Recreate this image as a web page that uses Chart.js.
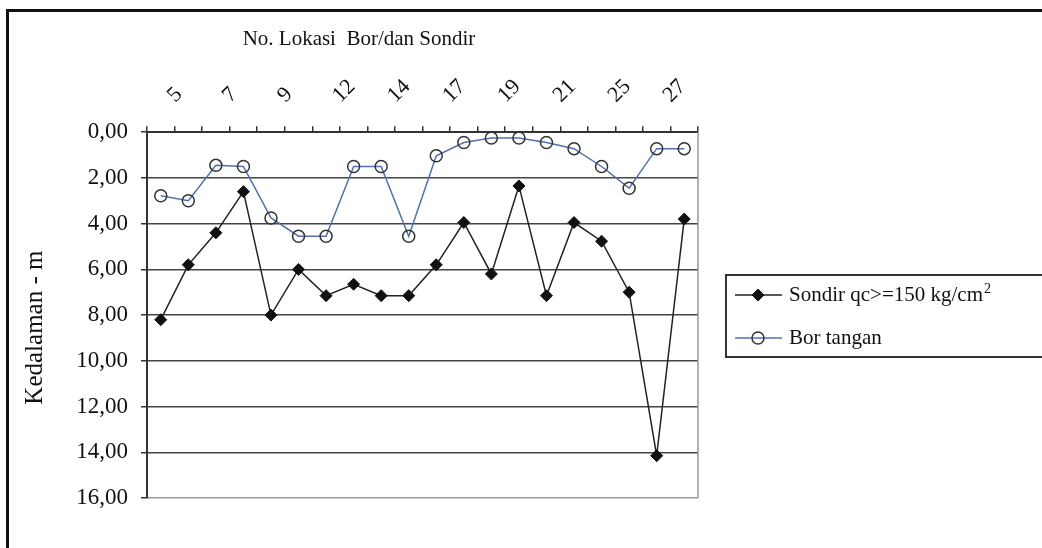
<!DOCTYPE html>
<html>
<head>
<meta charset="utf-8">
<script src="https://cdn.jsdelivr.net/npm/chart.js@4/dist/chart.umd.min.js"></script>
<style>
  body { margin: 0; background: #fff; overflow: hidden; }
  #wrap { position: relative; width: 1042px; height: 548px; }
  #frame { position: absolute; left: 6px; top: 9px; width: 1100px; height: 600px;
           border-left: 3px solid #111; border-top: 3px solid #111; }
  #myChartKedalaman { position: absolute; left: 0; top: 0; }
</style>
</head>
<body>
<div id="wrap">
  <div id="frame"></div>
  <canvas id="myChartKedalaman" width="1042" height="548"></canvas>
</div>
<script>
// No. lokasi (only every other one is printed on the axis)
const lokasi = ['5', '6', '7', '8', '9', '10', '12', '13', '14', '16',
                '17', '18', '19', '20', '21', '24', '25', '26', '27', '28'];

// kedalaman (m)
const sondir = [8.2, 5.8, 4.4, 2.6, 8.0, 6.0, 7.15, 6.65, 7.15, 7.15,
                5.8, 3.95, 6.2, 2.35, 7.15, 3.95, 4.77, 7.0, 14.15, 3.8];
const borTangan = [2.78, 3.0, 1.45, 1.5, 3.75, 4.55, 4.55, 1.5, 1.5, 4.55,
                   1.03, 0.45, 0.25, 0.25, 0.45, 0.72, 1.5, 2.45, 0.72, 0.72];

const yTicks = [0, 2, 4, 6, 8, 10, 12, 14, 16];

const serif = "'Liberation Serif', 'Times New Roman', serif";

// legend drawn by hand, Excel style: line with marker in the middle
const legendBox = {
    id: 'legendBox',
    afterDraw(chart) {
        const ctx = chart.ctx;
        ctx.save();
        ctx.fillStyle = '#fff';
        ctx.strokeStyle = '#333';
        ctx.lineWidth = 2;
        ctx.fillRect(726, 275, 340, 82);
        ctx.strokeRect(726, 275, 340, 82);
        const rows = [295, 338];
        chart.data.datasets.forEach(function (ds, i) {
            const y = rows[i];
            ctx.strokeStyle = ds.borderColor;
            ctx.lineWidth = ds.borderWidth;
            ctx.beginPath();
            ctx.moveTo(735, y);
            ctx.lineTo(782, y);
            ctx.stroke();
            ctx.strokeStyle = ds.pointBorderColor;
            ctx.fillStyle = ds.pointBackgroundColor;
            ctx.lineWidth = ds.pointBorderWidth;
            Chart.helpers.drawPoint(ctx, {pointStyle: ds.pointStyle, radius: ds.pointRadius, rotation: 0, borderWidth: ds.pointBorderWidth}, 758, y);
            ctx.fillStyle = '#111';
            ctx.font = '21px ' + serif;
            ctx.textBaseline = 'middle';
            ctx.textAlign = 'left';
            ctx.fillText(ds.label, 789, y);
        });
        // superscript of cm2
        ctx.font = '21px ' + serif;
        const w = ctx.measureText(chart.data.datasets[0].label).width;
        ctx.font = '14px ' + serif;
        ctx.fillStyle = '#111';
        ctx.fillText('2', 789 + w + 1, rows[0] - 6);
        ctx.restore();
    }
};

// grey right border of the plot area
const plotBorder = {
    id: 'plotBorder',
    beforeDatasetsDraw(chart) {
        const a = chart.chartArea;
        const ctx = chart.ctx;
        ctx.save();
        ctx.strokeStyle = '#999';
        ctx.lineWidth = 1.5;
        ctx.beginPath();
        ctx.moveTo(a.right, a.top);
        ctx.lineTo(a.right, a.bottom);
        ctx.stroke();
        ctx.restore();
    }
};

const ctx = document.getElementById('myChartKedalaman');

new Chart(ctx, {
    type: 'line',
    data: {
        labels: lokasi,
        datasets: [
            {
                label: 'Sondir qc>=150 kg/cm',
                data: sondir,
                borderColor: '#222',
                borderWidth: 1.5,
                pointStyle: 'rectRot',
                pointRadius: 6,
                pointBackgroundColor: '#111',
                pointBorderColor: '#111',
                pointBorderWidth: 1,
                tension: 0
            },
            {
                label: 'Bor tangan',
                data: borTangan,
                borderColor: '#5470ab',
                borderWidth: 1.5,
                pointStyle: 'circle',
                pointRadius: 6,
                pointBackgroundColor: 'rgba(255,255,255,0)',
                pointBorderColor: '#333',
                pointBorderWidth: 1.5,
                tension: 0
            }
        ]
    },
    options: {
        responsive: false,
        animation: false,
        layout: { padding: { left: 20, right: 344, top: 0, bottom: 50 } },
        plugins: {
            legend: { display: false },
            tooltip: { enabled: false },
            title: {
                display: true,
                text: 'No. Lokasi  Bor/dan Sondir',
                color: '#111',
                font: { family: serif, size: 21, weight: 'normal', lineHeight: 1.2 },
                padding: { top: 27, bottom: 10 }
            }
        },
        scales: {
            x: {
                position: 'top',
                offset: true,
                grid: { display: true, drawOnChartArea: false, drawTicks: true, tickLength: 6, offset: true, color: '#333', lineWidth: 1.5 },
                border: { display: true, color: '#333', width: 2 },
                ticks: {
                    autoSkip: false,
                    minRotation: 45,
                    maxRotation: 45,
                    padding: 18,
                    labelOffset: 29,
                    color: '#111',
                    font: { family: serif, size: 22 },
                    callback: function (v, i) { return i % 2 === 0 ? lokasi[i] : ''; }
                },
                afterFit: function (scale) { scale.height = 70; }
            },
            y: {
                reverse: true,
                min: 0,
                max: 16,
                afterBuildTicks: function (scale) { scale.ticks = yTicks.map(function (v) { return {value: v}; }); },
                grid: {
                    color: function (c) { return c.tick && c.tick.value === 16 ? '#999' : '#444'; },
                    lineWidth: 1.5,
                    tickLength: 6,
                    tickColor: '#333'
                },
                border: { display: true, color: '#333', width: 2 },
                ticks: {
                    padding: 13,
                    color: '#111',
                    font: { family: serif, size: 23 },
                    callback: function (v) { return v.toFixed(2).replace('.', ','); }
                },
                title: {
                    display: true,
                    text: 'Kedalaman - m    ',
                    color: '#111',
                    font: { family: serif, size: 25, lineHeight: 1 },
                    padding: { top: 3, bottom: 0 }
                },
                afterFit: function (scale) { scale.width = 127; }
            }
        }
    },
    plugins: [plotBorder, legendBox]
});
</script>
</body>
</html>
